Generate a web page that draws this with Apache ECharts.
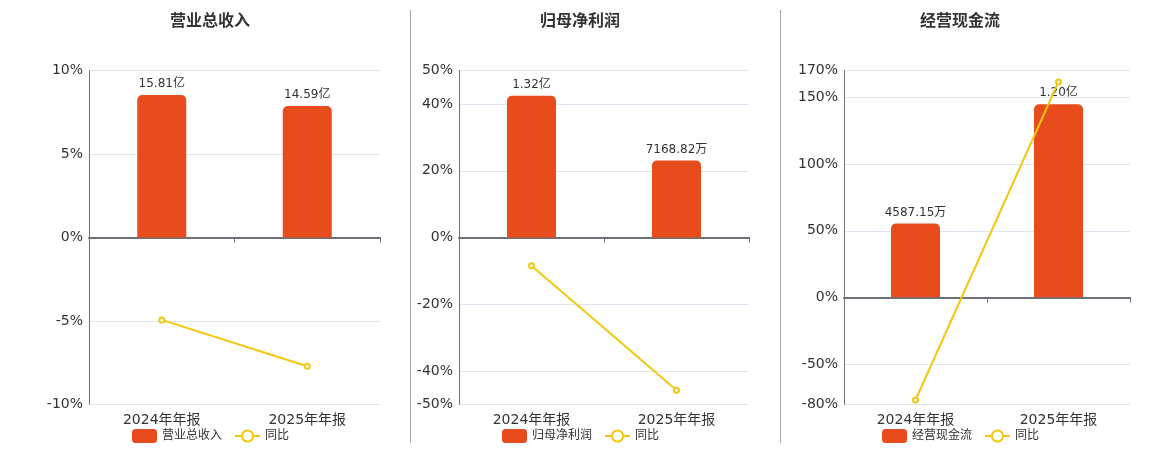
<!DOCTYPE html>
<html>
<head>
<meta charset="utf-8">
<title>财务指标</title>
<script src="https://cdn.jsdelivr.net/npm/echarts@6/dist/echarts.min.js"></script>
<style>
  html, body { margin: 0; padding: 0; background: #fff; }
  #chart { width: 1160px; height: 450px; }
</style>
</head>
<body>
<div id="chart"></div>
<script>
// data (bar values in 亿, yoy in %)
const categories = ['2024年年报', '2025年年报'];
const panelTitles = ['营业总收入', '归母净利润', '经营现金流'];
const revenue = [15.81, 14.59];
const revenueYoy = [-4.94, -7.72];
const netProfit = [1.32, 0.716882];
const netProfitYoy = [-8.5, -45.8];
const cashFlow = [0.458715, 1.20];
const cashFlowYoy = [-76.8, 161.6];

const pctRanges = [[-10, 10], [-50, 50], [-80, 170]];
const barRanges = [[-18.51, 18.51], [-1.553, 1.553], [-0.665, 1.409]];

const BAR_COLOR = '#e84c1d';
const LINE_COLOR = '#f2c80f';
const FONT = "'DejaVu Sans', 'Noto Sans CJK SC', sans-serif";

const gridBoxes = [
  { left: 89, width: 291 },
  { left: 459, width: 290 },
  { left: 844, width: 286 }
];
const centers = [210, 580, 960];

const barData = [revenue, netProfit, cashFlow];
const yoyData = [revenueYoy, netProfitYoy, cashFlowYoy];

function fmtAmount(v) {
  if (Math.abs(v) >= 1) return v.toFixed(2) + '亿';
  return (v * 10000).toFixed(2) + '万';
}

const chart = echarts.init(document.getElementById('chart'));

const grid = [], xAxis = [], yAxis = [], series = [], title = [], legend = [];

gridBoxes.forEach((g, i) => {
  grid.push({ left: g.left, width: g.width, top: 70.7, height: 333.6 });

  title.push({
    text: panelTitles[i],
    left: centers[i],
    textAlign: 'center',
    top: 14,
    padding: 0,
    textStyle: { fontSize: 16, fontWeight: 'bold', color: '#333', fontFamily: FONT }
  });

  // labels at bottom
  xAxis.push({
    type: 'category', gridIndex: i, data: categories, position: 'bottom',
    axisLine: { show: false, onZero: false },
    axisTick: { show: false },
    axisLabel: { fontSize: 14, color: '#333', margin: 9, fontFamily: FONT }
  });
  // line at zero
  xAxis.push({
    type: 'category', gridIndex: i, data: categories, position: 'bottom',
    axisLine: { show: true, onZero: true, onZeroAxisIndex: i * 2, lineStyle: { color: '#6e7079', width: 2 } },
    axisTick: { show: true, length: 5, lineStyle: { color: '#6e7079' } },
    axisLabel: { show: false }
  });

  yAxis.push({
    type: 'value', gridIndex: i,
    min: pctRanges[i][0], max: pctRanges[i][1],
    interval: i === 0 ? 5 : undefined,
    splitNumber: 5,
    axisLine: { show: true, lineStyle: { color: '#6e7079' } },
    axisTick: { show: false },
    axisLabel: { formatter: '{value}%', fontSize: 14, color: '#333', margin: 6, fontFamily: FONT },
    splitLine: { lineStyle: { color: '#e0e6f1' } }
  });
  yAxis.push({
    type: 'value', gridIndex: i, show: false,
    min: barRanges[i][0], max: barRanges[i][1],
    splitLine: { show: false }
  });

  series.push({
    name: panelTitles[i], type: 'bar',
    xAxisIndex: i * 2, yAxisIndex: i * 2 + 1,
    data: barData[i], barWidth: 49,
    itemStyle: { color: BAR_COLOR, borderRadius: [5, 5, 0, 0] },
    label: {
      show: true, position: 'top', distance: 5,
      color: '#333', fontSize: 12, fontFamily: FONT,
      formatter: (p) => fmtAmount(p.value)
    }
  });
  series.push({
    name: '同比', type: 'line',
    xAxisIndex: i * 2, yAxisIndex: i * 2,
    data: yoyData[i],
    symbol: 'emptyCircle', symbolSize: 5,
    lineStyle: { color: LINE_COLOR, width: 2 },
    itemStyle: { color: LINE_COLOR },
    z: 5
  });

  legend.push({
    data: [panelTitles[i], '同比'],
    left: centers[i] - 78, top: 429, padding: 0,
    itemWidth: 25, itemHeight: 14, itemGap: 12,
    textStyle: { fontSize: 12, color: '#333', fontFamily: FONT }
  });
});

chart.setOption({
  animation: false,
  textStyle: { fontFamily: FONT },
  title, legend, grid, xAxis, yAxis, series,
  graphic: [
    { type: 'line', shape: { x1: 410.5, y1: 10, x2: 410.5, y2: 443 }, style: { stroke: '#aaa', lineWidth: 1 } },
    { type: 'line', shape: { x1: 780.5, y1: 10, x2: 780.5, y2: 443 }, style: { stroke: '#aaa', lineWidth: 1 } }
  ]
});
</script>
</body>
</html>
